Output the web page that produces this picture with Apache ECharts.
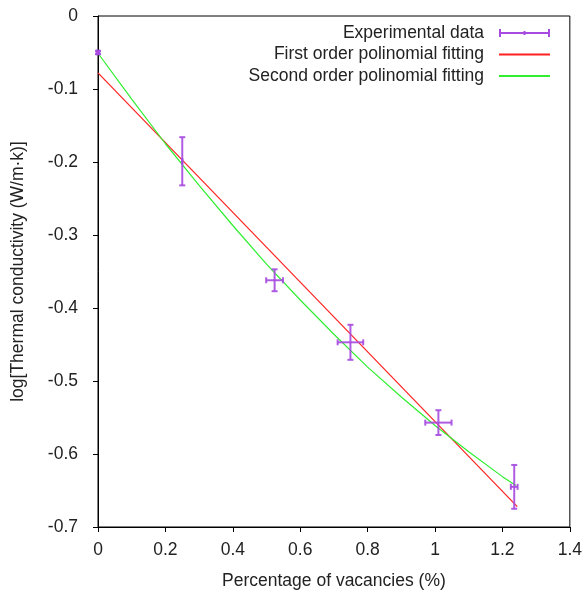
<!DOCTYPE html>
<html>
<head>
<meta charset="utf-8">
<script src="https://cdn.jsdelivr.net/npm/echarts@6/dist/echarts.min.js"></script>
<style>html,body{margin:0;padding:0;background:#fff}#c{width:585px;height:595px}</style>
</head>
<body>
<div id="c"></div>
<script>
// Experimental data
const expX = [0, 0.25, 0.524, 0.749, 1.010, 1.235];
const expY = [-0.050, -0.199, -0.362, -0.447, -0.557, -0.645];
const expXErr = [0.004, 0.0, 0.025, 0.038, 0.039, 0.010];
const expYErr = [0.002, 0.033, 0.015, 0.024, 0.017, 0.030];
// First order fit
const fit1X = [0, 1.244];
const fit1Y = [-0.078, -0.672];
// Second order fit
const fit2X = [0, 0.1, 0.2, 0.3, 0.4, 0.5, 0.6, 0.7, 0.8, 0.9, 1.0, 1.1, 1.2, 1.24];
const fit2Y = [-0.051, -0.114, -0.175, -0.232, -0.287, -0.340, -0.389, -0.436, -0.481, -0.522, -0.561, -0.597, -0.631, -0.643];
// Axis ticks
const xTicks = [0, 0.2, 0.4, 0.6, 0.8, 1, 1.2, 1.4];
const yTicks = [0, -0.1, -0.2, -0.3, -0.4, -0.5, -0.6, -0.7];

const seriesNames = ['Experimental data', 'First order polinomial fitting', 'Second order polinomial fitting'];
const purple = '#a64ae0';

const chart = echarts.init(document.getElementById('c'), null, {renderer: 'canvas'});
const font = 'Liberation Sans, Arial, sans-serif';
const fs = 17.5;

const errData = expX.map((x, i) => [x, expY[i], expXErr[i], expYErr[i]]);

chart.setOption({
  animation: false,
  backgroundColor: '#fff',
  textStyle: {fontFamily: font},
  grid: {left: 98, right: 12, top: 16, bottom: 68, show: true, borderColor: '#000', borderWidth: 1, backgroundColor: 'transparent'},
  legend: {
    orient: 'vertical', right: 29, top: 19, align: 'right',
    itemWidth: 51, itemHeight: 8, itemGap: 3.5,
    textStyle: {fontSize: fs, color: '#222', fontFamily: font, lineHeight: 18, padding: [0, 10, 0, 0]},
    data: [
      {name: seriesNames[0], icon: 'path://M0,3h51v2h-51zM0,0h2v8h-2zM49,0h2v8h-2zM24.5,2h2v4h-2z'},
      {name: seriesNames[1], itemStyle: {opacity: 0}},
      {name: seriesNames[2], itemStyle: {opacity: 0}}
    ]
  },
  xAxis: {
    type: 'value', min: 0, max: 1.4, interval: 0.2,
    name: 'Percentage of vacancies (%)', nameLocation: 'middle', nameGap: 45,
    nameTextStyle: {fontSize: fs, color: '#222', fontFamily: font},
    axisLine: {show: true, onZero: false, lineStyle: {color: '#000', width: 1}},
    axisTick: {show: true, inside: false, length: 5, lineStyle: {color: '#000'}},
    axisLabel: {fontSize: fs, color: '#222', margin: 14, fontFamily: font,
      formatter: v => { const t = xTicks.find(a => Math.abs(a - v) < 1e-9); return t === undefined ? '' : String(t); }},
    splitLine: {show: false}
  },
  yAxis: {
    type: 'value', min: -0.7, max: 0, interval: 0.1,
    name: 'log[Thermal conductivity (W/m·k)]', nameLocation: 'middle', nameGap: 71, nameRotate: 90,
    nameTextStyle: {fontSize: fs, color: '#222', fontFamily: font},
    axisLine: {show: true, onZero: false, lineStyle: {color: '#000', width: 1}},
    axisTick: {show: true, inside: false, length: 5, lineStyle: {color: '#000'}},
    axisLabel: {fontSize: fs, color: '#222', margin: 20, fontFamily: font,
      formatter: v => { const t = yTicks.find(a => Math.abs(a - v) < 1e-9); return t === undefined ? '' : String(t); }},
    splitLine: {show: false}
  },
  series: [
    {
      name: seriesNames[0], type: 'custom', z: 5,
      itemStyle: {color: purple},
      data: errData,
      renderItem: (params, api) => {
        const x = api.value(0), y = api.value(1), dx = api.value(2), dy = api.value(3);
        const l = api.coord([x - dx, y]), r = api.coord([x + dx, y]);
        const t = api.coord([x, y + dy]), b = api.coord([x, y - dy]);
        const st = {stroke: purple, lineWidth: 2, opacity: 0.9};
        const cap = 3;
        const ch = [];
        ch.push({type: 'line', shape: {x1: t[0], y1: t[1], x2: b[0], y2: b[1]}, style: st});
        ch.push({type: 'line', shape: {x1: t[0] - cap, y1: t[1], x2: t[0] + cap, y2: t[1]}, style: st});
        ch.push({type: 'line', shape: {x1: b[0] - cap, y1: b[1], x2: b[0] + cap, y2: b[1]}, style: st});
        ch.push({type: 'line', shape: {x1: l[0], y1: l[1], x2: r[0], y2: r[1]}, style: st});
        ch.push({type: 'line', shape: {x1: l[0], y1: l[1] - cap, x2: l[0], y2: l[1] + cap}, style: st});
        ch.push({type: 'line', shape: {x1: r[0], y1: r[1] - cap, x2: r[0], y2: r[1] + cap}, style: st});
        return {type: 'group', children: ch};
      }
    },
    {
      name: seriesNames[1], type: 'line', symbol: 'none', z: 3,
      data: fit1X.map((x, i) => [x, fit1Y[i]]),
      lineStyle: {color: '#ff2020', width: 1.2}, itemStyle: {color: '#ff2020'}
    },
    {
      name: seriesNames[2], type: 'line', symbol: 'none', z: 4,
      data: fit2X.map((x, i) => [x, fit2Y[i]]),
      lineStyle: {color: '#30ee30', width: 1.2}, itemStyle: {color: '#30ee30'}
    }
  ]
});
</script>
</body>
</html>
